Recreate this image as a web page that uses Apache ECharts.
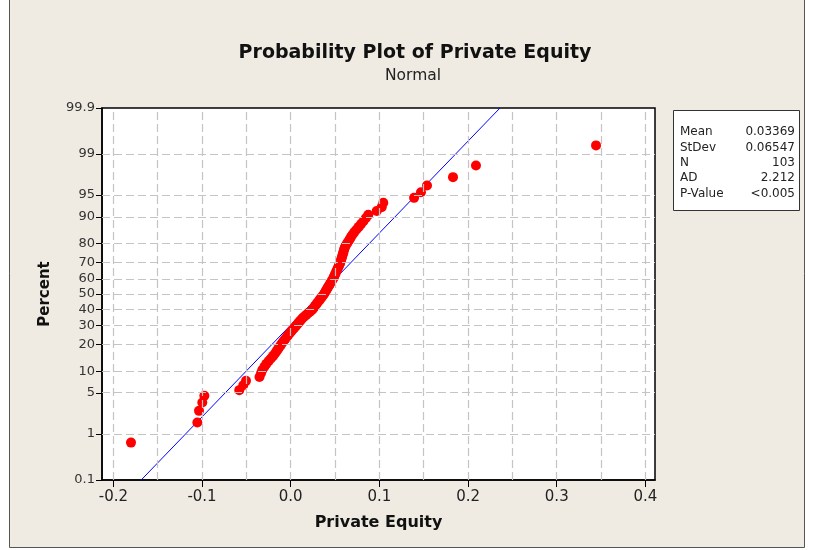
<!DOCTYPE html>
<html>
<head>
<meta charset="utf-8">
<script src="https://cdn.jsdelivr.net/npm/echarts@6/dist/echarts.min.js"></script>
<style>html,body{margin:0;padding:0;background:#fff}#c{width:814px;height:550px}</style>
</head>
<body>
<div id="c"></div>
<script>
// Sorted sample values of Private Equity, n = 103
const privateEquity = [
  -0.1801, -0.1053, -0.1034, -0.0997, -0.0974, -0.0580, -0.0535, -0.0504, -0.0352, -0.0335,
  -0.0321, -0.0297, -0.0275, -0.0249, -0.0223, -0.0198, -0.0177, -0.0159, -0.0142, -0.0125,
  -0.0109, -0.0092, -0.0076, -0.0059, -0.0042, -0.0026, -0.0009, 0.0008, 0.0025, 0.0041,
  0.0058, 0.0073, 0.0088, 0.0104, 0.0120, 0.0135, 0.0156, 0.0177, 0.0196, 0.0217,
  0.0238, 0.0251, 0.0264, 0.0276, 0.0289, 0.0301, 0.0314, 0.0327, 0.0338, 0.0351,
  0.0363, 0.0376, 0.0386, 0.0395, 0.0405, 0.0414, 0.0424, 0.0434, 0.0444, 0.0454,
  0.0464, 0.0474, 0.0483, 0.0491, 0.0498, 0.0506, 0.0514, 0.0522, 0.0530, 0.0538,
  0.0547, 0.0555, 0.0561, 0.0567, 0.0573, 0.0579, 0.0585, 0.0591, 0.0597, 0.0603,
  0.0610, 0.0621, 0.0636, 0.0651, 0.0666, 0.0681, 0.0698, 0.0718, 0.0742, 0.0767,
  0.0793, 0.0820, 0.0848, 0.0875, 0.0970, 0.1026, 0.1044, 0.1391, 0.1469, 0.1537,
  0.1830, 0.2089, 0.3443
];
const percentTicks = [0.1, 1, 5, 10, 20, 30, 40, 50, 60, 70, 80, 90, 95, 99, 99.9];
const percentGrid = [1, 5, 10, 20, 30, 40, 50, 60, 70, 80, 90, 95, 99];
const xTicks = [-0.2, -0.1, 0.0, 0.1, 0.2, 0.3, 0.4];
const xGrid = [-0.2, -0.15, -0.1, -0.05, 0.0, 0.05, 0.1, 0.15, 0.2, 0.25, 0.3, 0.35, 0.4];
const statNames = ['Mean', 'StDev', 'N', 'AD', 'P-Value'];
const statValues = ['0.03369', '0.06547', '103', '2.212', '<0.005'];
const fitMean = 0.03369;
const fitStDev = 0.06547;

// inverse standard normal CDF (Acklam)
function normInv(p) {
  const a = [-3.969683028665376e+01, 2.209460984245205e+02, -2.759285104469687e+02, 1.383577518672690e+02, -3.066479806614716e+01, 2.506628277459239e+00];
  const b = [-5.447609879822406e+01, 1.615858368580409e+02, -1.556989798598866e+02, 6.680131188771972e+01, -1.328068155288572e+01];
  const c = [-7.784894002430293e-03, -3.223964580411365e-01, -2.400758277161838e+00, -2.549732539343734e+00, 4.374664141464968e+00, 2.938163982698783e+00];
  const d = [7.784695709041462e-03, 3.224671290700398e-01, 2.445134137142996e+00, 3.754408661907416e+00];
  const pl = 0.02425, ph = 1 - pl;
  let q, r;
  if (p < pl) { q = Math.sqrt(-2 * Math.log(p)); return (((((c[0]*q+c[1])*q+c[2])*q+c[3])*q+c[4])*q+c[5]) / ((((d[0]*q+d[1])*q+d[2])*q+d[3])*q+1); }
  if (p <= ph) { q = p - 0.5; r = q*q; return (((((a[0]*r+a[1])*r+a[2])*r+a[3])*r+a[4])*r+a[5])*q / (((((b[0]*r+b[1])*r+b[2])*r+b[3])*r+b[4])*r+1); }
  q = Math.sqrt(-2 * Math.log(1 - p)); return -(((((c[0]*q+c[1])*q+c[2])*q+c[3])*q+c[4])*q+c[5]) / ((((d[0]*q+d[1])*q+d[2])*q+d[3])*q+1);
}
const zOf = pct => normInv(pct / 100);
const n = privateEquity.length;
const points = privateEquity.map((v, i) => [v, normInv((i + 1 - 0.3) / (n + 0.4))]);
const zMin = zOf(percentTicks[0]);
const zMax = zOf(percentTicks[percentTicks.length - 1]);
const fitLine = [[fitMean + fitStDev * zMin, zMin], [fitMean + fitStDev * zMax, zMax]];
const yTickZ = percentTicks.map(zOf);

const gridStyle = { color: '#c4c4c4', type: [8, 4], width: 1.2 };
const markData = percentGrid.map(p => ({ yAxis: zOf(p) })).concat(xGrid.map(x => ({ xAxis: x })));

const graphics = [
  { type: 'rect', z: -100, shape: { x: 9.5, y: -2, width: 795, height: 549.5 },
    style: { fill: '#EFEBE2', stroke: '#555', lineWidth: 1 } },
  { type: 'text', x: 415, y: 53, style: { text: 'Probability Plot of Private Equity', font: 'bold 19px "DejaVu Sans"', fill: '#111', textAlign: 'center', textVerticalAlign: 'middle' } },
  { type: 'text', x: 413, y: 76, style: { text: 'Normal', font: '15.5px "DejaVu Sans"', fill: '#222', textAlign: 'center', textVerticalAlign: 'middle' } },
  { type: 'rect', shape: { x: 673.5, y: 110.5, width: 126, height: 100 }, style: { fill: '#fff', stroke: '#333', lineWidth: 1 } }
];
statNames.forEach((s, i) => {
  const y = 132 + i * 15.4;
  graphics.push({ type: 'text', x: 680, y: y, style: { text: s, font: '12px "DejaVu Sans"', fill: '#222', textAlign: 'left', textVerticalAlign: 'middle' } });
  graphics.push({ type: 'text', x: 795, y: y, style: { text: statValues[i], font: '12px "DejaVu Sans"', fill: '#222', textAlign: 'right', textVerticalAlign: 'middle' } });
});

const chart = echarts.init(document.getElementById('c'), null, { renderer: 'canvas' });
chart.setOption({
  backgroundColor: '#ffffff',
  animation: false,
  graphic: graphics,
  grid: { left: 102, right: 159, top: 108, bottom: 70, show: true, backgroundColor: '#fff', borderColor: '#000', borderWidth: 1.5 },
  xAxis: {
    type: 'value', min: -0.2128, max: 0.4108,
    name: 'Private Equity', nameLocation: 'middle', nameGap: 35,
    nameTextStyle: { fontFamily: 'DejaVu Sans', fontWeight: 'bold', fontSize: 16, color: '#111' },
    axisLine: { show: true, onZero: false, lineStyle: { color: '#000', width: 1.5 } },
    axisTick: { show: true, length: 7, customValues: xTicks, lineStyle: { color: '#000' } },
    axisLabel: { customValues: xTicks, margin: 10, fontFamily: 'DejaVu Sans', fontSize: 15, color: '#222',
      formatter: v => v.toFixed(1) },
    splitLine: { show: false }
  },
  yAxis: {
    type: 'value', min: zMin, max: zMax,
    name: 'Percent', nameLocation: 'middle', nameGap: 49, nameRotate: 90,
    nameTextStyle: { fontFamily: 'DejaVu Sans', fontWeight: 'bold', fontSize: 15, color: '#111' },
    axisLine: { show: true, onZero: false, lineStyle: { color: '#000', width: 1.5 } },
    axisTick: { show: true, length: 6, customValues: yTickZ, lineStyle: { color: '#000' } },
    axisLabel: { customValues: yTickZ, margin: 7, fontFamily: 'DejaVu Sans', fontSize: 13, color: '#333',
      formatter: v => {
        let best = 0, bd = Infinity;
        yTickZ.forEach((z, i) => { const d = Math.abs(z - v); if (d < bd) { bd = d; best = i; } });
        return String(percentTicks[best]);
      } },
    splitLine: { show: false }
  },
  series: [
    { type: 'line', data: [], z: 1, silent: true,
      markLine: { silent: true, symbol: 'none', label: { show: false }, lineStyle: gridStyle, data: markData, animation: false } },
    { type: 'line', data: fitLine, z: 2, symbol: 'none', silent: true,
      lineStyle: { color: '#0000ff', width: 1 } },
    { type: 'scatter', data: points, z: 3, symbol: 'circle', symbolSize: 10,
      itemStyle: { color: '#ff0000', opacity: 1 } }
  ]
});
</script>
</body>
</html>
